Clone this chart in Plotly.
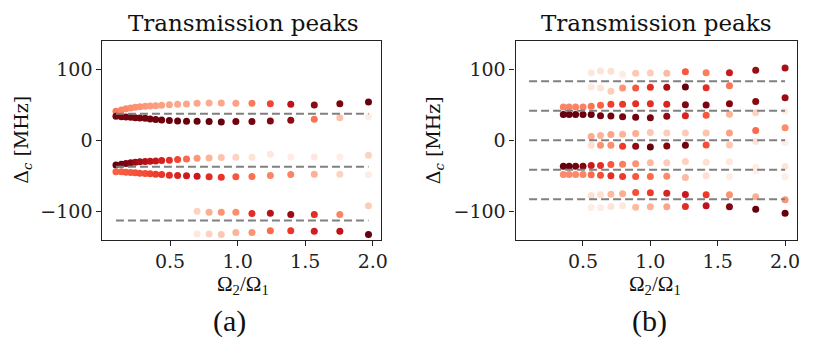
import plotly.graph_objects as go
import plotly.express as px

REDS = px.colors.sequential.Reds

# ---- panel (a) ----
XA = [0.100, 0.140, 0.174, 0.209, 0.243, 0.277, 0.316, 0.353, 0.394, 0.438, 0.495, 0.556,
      0.622, 0.700, 0.789, 0.879, 0.987, 1.106, 1.242, 1.393, 1.567, 1.756, 1.968]

a_up_hi_y = [40.8, 42.7, 44.6, 45.5, 46.5, 47.4, 47.9, 48.4, 48.8, 49.3, 50.2, 50.7,
             51.2, 52.1, 52.6, 52.6, 52.1, 52.1, 51.6, 50.7, 49.8, 51.6, 54.0]
a_up_hi_c = [0.45, 0.42, 0.40, 0.39, 0.38, 0.37, 0.36, 0.35, 0.34, 0.33, 0.32, 0.31,
             0.31, 0.31, 0.30, 0.31, 0.33, 0.45, 0.60, 0.80, 0.92, 0.96, 1.0]
a_up_lo_y = [33.8, 33.3, 32.9, 32.4, 31.9, 31.5, 31.0, 30.0, 29.1, 28.6, 27.7, 27.2,
             26.8, 26.8, 26.3, 25.8, 26.3, 26.3, 27.2, 28.2, 29.6, 31.9, 33.3]
a_up_lo_c = [0.97, 0.97, 0.97, 0.97, 0.97, 0.97, 0.98, 0.98, 0.98, 0.99, 0.99, 1.0,
             1.0, 1.0, 1.0, 1.0, 0.98, 0.97, 0.95, 0.92, 0.47, 0.23, 0.05]
a_mid_hi_y = [-35.0, -33.8, -32.9, -31.9, -31.0, -30.5, -30.0, -29.6, -29.1, -28.6, -28.2, -27.2,
              -26.3, -25.4, -24.9, -24.4, -23.9, -23.9, -19.7, -23.5, -23.5, -23.5, -21.1]
a_mid_hi_c = [1.0, 0.98, 0.96, 0.94, 0.90, 0.87, 0.84, 0.80, 0.76, 0.72, 0.67, 0.60,
              0.50, 0.36, 0.27, 0.22, 0.17, 0.11, 0.08, 0.05, 0.08, 0.05, 0.17]
a_mid_lo_y = [-44.6, -44.6, -45.1, -45.5, -46.0, -46.5, -47.0, -47.4, -47.9, -48.4, -49.3, -49.8,
              -50.2, -50.7, -51.6, -52.1, -51.6, -51.2, -49.8, -48.4, -47.9, -47.9, -48.8]
a_mid_lo_c = [0.52, 0.53, 0.54, 0.55, 0.56, 0.57, 0.58, 0.60, 0.62, 0.64, 0.67, 0.70,
              0.74, 0.75, 0.68, 0.65, 0.55, 0.48, 0.42, 0.42, 0.28, 0.17, 0.05]
# lowest pair only appears from Omega2/Omega1 ~ 0.7
a_low_start = 13
a_low_hi_y = [-100.0, -101.4, -101.4, -101.4, -103.3, -102.8, -104.9, -104.7, -104.7, -92.5]
a_low_hi_c = [0.17, 0.29, 0.37, 0.39, 0.67, 0.82, 0.90, 0.67, 0.42, 0.19]
a_low_lo_y = [-132.4, -132.4, -132.8, -130.0, -130.0, -127.7, -127.7, -128.2, -128.2, -132.9]
a_low_lo_c = [0.08, 0.17, 0.21, 0.27, 0.37, 0.50, 0.64, 0.73, 0.80, 1.0]

a_levels = [37.5, -37.5, -113.3]
a_level_x = [0.1, 1.968]

# ---- panel (b) ----
XB = [0.354, 0.397, 0.445, 0.500, 0.561, 0.630, 0.707, 0.794, 0.891, 1.000,
      1.122, 1.260, 1.414, 1.587, 1.782, 2.000]

b_p1_hi_y = [46.9, 46.9, 46.9, 46.9, 47.9, 49.3, 50.7, 50.7, 51.6, 51.6, 50.7, 50.2, 49.8, 51.6, 54.5, 60.1]
b_p1_hi_c = [0.42, 0.42, 0.42, 0.43, 0.47, 0.52, 0.62, 0.64, 0.67, 0.67, 0.71, 0.95, 0.96, 0.95, 0.93, 0.90]
b_p1_lo_y = [36.2, 36.2, 36.2, 36.2, 36.2, 34.7, 34.3, 33.3, 32.4, 31.9, 33.8, 34.7, 35.2, 36.6, 38.9, 40.8]
b_p1_lo_c = [1.0, 1.0, 1.0, 1.0, 1.0, 0.98, 0.97, 0.97, 0.98, 0.97, 0.92, 0.71, 0.55, 0.27, 0.17, 0.05]
b_m1_hi_y = [-36.6, -36.6, -36.6, -36.6, -35.7, -35.7, -34.3, -33.8, -33.3, -31.9, -31.9, -30.0, -31.0, -30.5, -38.0, -37.1]
b_m1_hi_c = [1.0, 1.0, 0.98, 0.95, 0.75, 0.67, 0.55, 0.44, 0.375, 0.25, 0.19, 0.17, 0.125, 0.08, 0.05, 0.10]
b_m1_lo_y = [-48.4, -48.4, -48.4, -48.4, -48.8, -49.3, -50.2, -51.2, -51.2, -51.2, -50.7, -52.6, -50.2, -51.6, -43.0, -51.6]
b_m1_lo_c = [0.40, 0.40, 0.40, 0.42, 0.50, 0.57, 0.67, 0.63, 0.55, 0.50, 0.40, 0.25, 0.125, 0.05, 0.04, 0.04]
# the other peaks appear from Omega2/Omega1 ~ 0.56
b_start = 4
b_z_hi_y = [5.2, 6.6, 8.0, 8.4, 9.4, 10.8, 10.3, 10.3, 10.3, 10.3, 13.6, 17.8]
b_z_hi_c = [0.30, 0.27, 0.32, 0.27, 0.29, 0.21, 0.19, 0.19, 0.22, 0.33, 0.50, 0.39]
b_z_lo_y = [-7.0, -7.0, -7.0, -8.5, -8.5, -9.4, -8.0, -7.0, -6.6, -6.6, -1.9, -3.3]
b_z_lo_c = [0.13, 0.375, 0.39, 0.63, 0.92, 1.0, 0.95, 0.98, 0.57, 0.21, 0.10, 0.05]
b_p2_hi_y = [95.3, 97.7, 97.2, 93.0, 94.4, 94.8, 94.4, 96.7, 95.3, 95.3, 98.6, 101.9]
b_p2_hi_c = [0.08, 0.10, 0.125, 0.06, 0.21, 0.19, 0.25, 0.55, 0.44, 0.75, 0.90, 0.87]
b_p2_lo_y = [75.1, 73.7, 69.0, 73.7, 73.7, 74.6, 74.6, 75.1, 74.2, 77.0]
b_p2_lo_c = [0.08, 0.10, 0.19, 0.37, 0.55, 0.67, 0.87, 1.0, 0.67, 0.47]
b_m2_hi_y = [-77.9, -77.0, -76.1, -75.6, -73.7, -74.2, -74.6, -76.5, -77.0, -77.0, -79.8, -84.0]
b_m2_hi_c = [0.125, 0.125, 0.25, 0.29, 0.57, 0.63, 0.71, 0.75, 0.63, 0.375, 0.29, 0.37]
b_m2_lo_y = [-94.8, -95.3, -93.4, -92.5, -94.4, -93.9, -93.9, -93.4, -92.5, -93.9, -97.2, -102.8]
b_m2_lo_c = [0.05, 0.05, 0.10, 0.08, 0.25, 0.27, 0.32, 0.67, 0.80, 0.95, 1.0, 1.0]

b_levels = [83.3, 41.5, 0.0, -41.5, -83.3]
b_level_x = [0.1, 2.0]

fig = go.Figure()


def dots(x, y, c, xa, ya):
    fig.add_trace(go.Scatter(
        x=x, y=y, mode="markers", xaxis=xa, yaxis=ya,
        marker=dict(size=7, color=c, colorscale=REDS, cmin=0, cmax=1, line=dict(width=0)),
    ))


def levels(vals, xr, xa, ya):
    for v in vals:
        fig.add_trace(go.Scatter(
            x=xr, y=[v, v], mode="lines", xaxis=xa, yaxis=ya,
            line=dict(color="grey", width=2, dash="8px,4px"),
        ))


xs_low = XA[a_low_start:]
for y, c in [(a_up_hi_y, a_up_hi_c), (a_up_lo_y, a_up_lo_c),
             (a_mid_hi_y, a_mid_hi_c), (a_mid_lo_y, a_mid_lo_c)]:
    dots(XA, y, c, "x", "y")
for y, c in [(a_low_hi_y, a_low_hi_c), (a_low_lo_y, a_low_lo_c)]:
    dots(xs_low, y, c, "x", "y")
levels(a_levels, a_level_x, "x", "y")

for y, c in [(b_p1_hi_y, b_p1_hi_c), (b_p1_lo_y, b_p1_lo_c),
             (b_m1_hi_y, b_m1_hi_c), (b_m1_lo_y, b_m1_lo_c)]:
    dots(XB, y, c, "x2", "y2")
for y, c in [(b_z_hi_y, b_z_hi_c), (b_z_lo_y, b_z_lo_c),
             (b_p2_hi_y, b_p2_hi_c), (b_m2_hi_y, b_m2_hi_c), (b_m2_lo_y, b_m2_lo_c)]:
    dots(XB[b_start:], y, c, "x2", "y2")
dots(XB[b_start:b_start + len(b_p2_lo_y)], b_p2_lo_y, b_p2_lo_c, "x2", "y2")
levels(b_levels, b_level_x, "x2", "y2")

W, H = 832, 345
ax = dict(showline=True, mirror=True, linecolor="#222", linewidth=1.3, showgrid=False,
          zeroline=False, ticks="outside", ticklen=5, tickwidth=1.2, tickcolor="#222",
          tickfont=dict(family="DejaVu Serif", size=19, color="#222"))
xt = dict(tickvals=[0.5, 1.0, 1.5, 2.0], ticktext=["0.5", "1.0", "1.5", "2.0"])
yt = dict(tickvals=[-100, 0, 100], ticktext=["\u2212100", "0", "100"], range=[-140, 140])
ydom = [1 - 239.5 / H, 1 - 41 / H]

fig.update_layout(
    width=W, height=H, margin=dict(l=0, r=0, t=0, b=0),
    plot_bgcolor="white", paper_bgcolor="white", showlegend=False,
    xaxis=dict(ax, **xt, domain=[103.3 / W, 384.3 / W], range=[0.0, 2.061], anchor="y"),
    yaxis=dict(ax, **yt, domain=ydom, anchor="x"),
    xaxis2=dict(ax, **xt, domain=[520 / W, 803.3 / W], range=[0.0, 2.085], anchor="y2"),
    yaxis2=dict(ax, **yt, domain=ydom, anchor="x2"),
)

serif = "DejaVu Serif"
cm = "Liberation Serif"
notes = [
    (246, 23, "Transmission peaks", serif, 23, 0),
    (662, 23, "Transmission peaks", serif, 23, 0),
    (22, 140, "\u0394<sub><i>c</i></sub> [MHz]", serif, 19, -90),
    (438, 140, "\u0394<sub><i>c</i></sub> [MHz]", serif, 19, -90),
    (245, 285, "\u03a9<sub>2</sub>/\u03a9<sub>1</sub>", cm, 21, 0),
    (661, 285, "\u03a9<sub>2</sub>/\u03a9<sub>1</sub>", cm, 21, 0),
    (231, 321, "(a)", cm, 30, 0),
    (655, 321, "(b)", cm, 30, 0),
]
for px_, py_, t, fam, sz, ang in notes:
    fig.add_annotation(x=px_ / W, y=1 - py_ / H, xref="paper", yref="paper", text=t,
                       showarrow=False, textangle=ang, xanchor="center", yanchor="middle",
                       font=dict(family=fam, size=sz, color="#111"))

fig.write_html("out.html", config={"displayModeBar": False},
               post_script="document.body.style.margin='0';")
